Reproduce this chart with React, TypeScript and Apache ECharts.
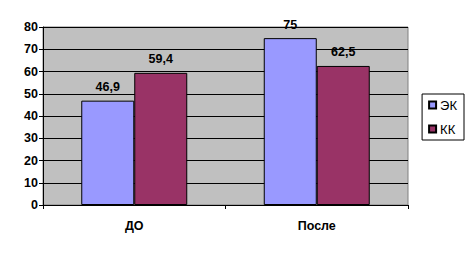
import React, { useEffect, useRef } from "react";
import * as echarts from "echarts";

const categories = ["ДО", "После"];
const seriesNames = ["ЭК", "КК"];
const ekValues = [46.9, 75];
const kkValues = [59.4, 62.5];
const yTicks = { min: 0, max: 80, interval: 10 };

export default function App() {
  const ref = useRef<HTMLDivElement>(null);
  useEffect(() => {
    const chart = echarts.init(ref.current!, null, { renderer: "svg" });
    const font = "Liberation Sans, Arial, sans-serif";
    const label = {
      show: true,
      position: "top",
      distance: 7,
      fontFamily: font,
      fontWeight: "bold",
      fontSize: 12.5,
      color: "#000",
      formatter: (p: any) => String(p.value).replace(".", ","),
    };
    chart.setOption({
      animation: false,
      backgroundColor: "#fff",
      textStyle: { fontFamily: font },
      grid: {
        left: 43,
        right: 62,
        top: 27,
        bottom: 48,
        show: true,
        backgroundColor: "#C0C0C0",
        borderColor: "#808080",
        borderWidth: 1,
      },
      legend: {
        orient: "vertical",
        right: 6,
        top: 94,
        data: seriesNames,
        itemWidth: 7,
        itemHeight: 7,
        itemGap: 10,
        icon: "rect",
        borderColor: "#000",
        borderWidth: 1,
        padding: [4, 7, 4, 6],
        textStyle: { fontFamily: font, fontSize: 13, lineHeight: 14, color: "#000", padding: [0, 0, 0, -1] },
      },
      xAxis: {
        type: "category",
        data: categories,
        axisLine: { lineStyle: { color: "#000" } },
        axisTick: { show: true, lineStyle: { color: "#000" }, length: 4 },
        axisLabel: { fontFamily: font, fontWeight: "bold", fontSize: 12.5, color: "#000", margin: 14 },
      },
      yAxis: {
        type: "value",
        min: yTicks.min,
        max: yTicks.max,
        interval: yTicks.interval,
        axisLine: { show: true, lineStyle: { color: "#000" } },
        axisTick: { show: true, lineStyle: { color: "#000" }, length: 4 },
        axisLabel: { fontFamily: font, fontWeight: "bold", fontSize: 12.5, color: "#000", margin: 5 },
        splitLine: { lineStyle: { color: "#000", width: 1 } },
      },
      series: [
        {
          name: seriesNames[0],
          type: "bar",
          data: ekValues,
          barWidth: 53,
          barGap: "0%",
          itemStyle: { color: "#9999FF", borderColor: "#000", borderWidth: 1 },
          label,
        },
        {
          name: seriesNames[1],
          type: "bar",
          data: kkValues,
          barWidth: 53,
          barGap: "0%",
          itemStyle: { color: "#993366", borderColor: "#000", borderWidth: 1 },
          label,
        },
      ],
    });
    return () => chart.dispose();
  }, []);
  return <div ref={ref} style={{ width: 470, height: 253, position: "absolute", left: 0, top: 0 }} />;
}
